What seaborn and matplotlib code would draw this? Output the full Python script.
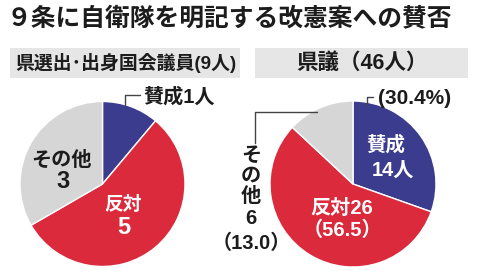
import matplotlib
matplotlib.use("Agg")
import matplotlib.pyplot as plt
import seaborn as sns

# ---- data ----
title = "９条に自衛隊を明記する改憲案への賛否"
groups = ["県選出･出身国会議員(9人)", "県議（46人）"]
categories = ["賛成", "反対", "その他"]
left_values = [1, 5, 3]
right_values = [14, 26, 6]
right_pct = [30.4, 56.5, 13.0]

sns.set_theme(style="white")
plt.rcParams["font.family"] = ["Liberation Sans", "Noto Sans CJK JP", "DejaVu Sans"]

palette = ["#3b3c8e", "#da2a3b", "#d6d6d6"]
txt = "#1c1c1c"

W, H = 480, 274
fig = plt.figure(figsize=(W / 100, H / 100), dpi=100)
fig.patch.set_facecolor("white")


def pie_axes(cx, cy, r):
    return fig.add_axes([(cx - r) / W, (H - cy - r) / H, 2 * r / W, 2 * r / H])


for (cx, cy, r), vals in [((102.5, 184, 82.5), left_values), ((353, 184, 83), right_values)]:
    pa = pie_axes(cx, cy, r)
    pa.pie(vals, colors=palette, startangle=90, counterclock=False,
           wedgeprops=dict(edgecolor="white", linewidth=1.0))
    pa.set_aspect("equal")
    pa.set_xlim(-1, 1)
    pa.set_ylim(-1, 1)
    pa.axis("off")

ov = fig.add_axes([0, 0, 1, 1], zorder=5)
ov.set_xlim(0, W)
ov.set_ylim(H, 0)
ov.axis("off")
ov.patch.set_alpha(0)

# title
ov.text(7, 19, title, fontsize=17.8, fontweight="bold", color=txt, ha="left", va="center")

# header boxes
ov.add_patch(plt.Rectangle((10, 48), 230, 30, color="#e6e6e6", lw=0))
ov.add_patch(plt.Rectangle((255, 48), 213, 30, color="#e6e6e6", lw=0))
ov.text(126, 63, groups[0], fontsize=13.6, fontweight="bold", color=txt, ha="center", va="center")
ov.text(362, 63, groups[1], fontsize=15.5, fontweight="bold", color=txt, ha="center", va="center")

lc = "#444444"
# left pie labels
ov.plot([125, 125, 140], [105, 95, 95], color=lc, lw=1)
ov.text(143, 97, f"{categories[0]}{left_values[0]}人", fontsize=14.5, fontweight="bold",
        color=txt, ha="left", va="center")
ov.text(61, 160, categories[2], fontsize=14.5, fontweight="bold", color=txt, ha="center", va="center")
ov.text(63, 181, f"{left_values[2]}", fontsize=17, fontweight="bold", color=txt, ha="center", va="center")
ov.text(123, 205, categories[1], fontsize=13.5, fontweight="bold", color="white", ha="center", va="center")
ov.text(124, 227, f"{left_values[1]}", fontsize=17, fontweight="bold", color="white", ha="center", va="center")

# right pie labels
ov.plot([367, 367, 373], [105, 97, 97], color=lc, lw=1)
ov.text(378, 98, f"({right_pct[0]}%)", fontsize=15, fontweight="bold", color=txt,
        ha="left", va="center")
ov.text(386, 145, categories[0], fontsize=14, fontweight="bold", color="white", ha="center", va="center")
ov.text(393, 170, f"{right_values[0]}人", fontsize=14.5, fontweight="bold", color="white", ha="center", va="center")
ov.text(342, 208, f"{categories[1]}{right_values[1]}", fontsize=14.5, fontweight="bold",
        color="white", ha="center", va="center")
ov.text(342, 230, f"（{right_pct[1]}）", fontsize=14.5, fontweight="bold", color="white",
        ha="center", va="center")

ov.plot([255, 255, 317], [143, 112, 112], color=lc, lw=1)
stack = list(categories[2]) + [f"{right_values[2]}", f"（{right_pct[2]}）"]
ys = [155, 176, 196, 218, 243]
for s, y in zip(stack, ys):
    ov.text(251, y, s, fontsize=14.5, fontweight="bold", color=txt, ha="center", va="center")

fig.savefig("out.png", dpi=100, facecolor="white")
